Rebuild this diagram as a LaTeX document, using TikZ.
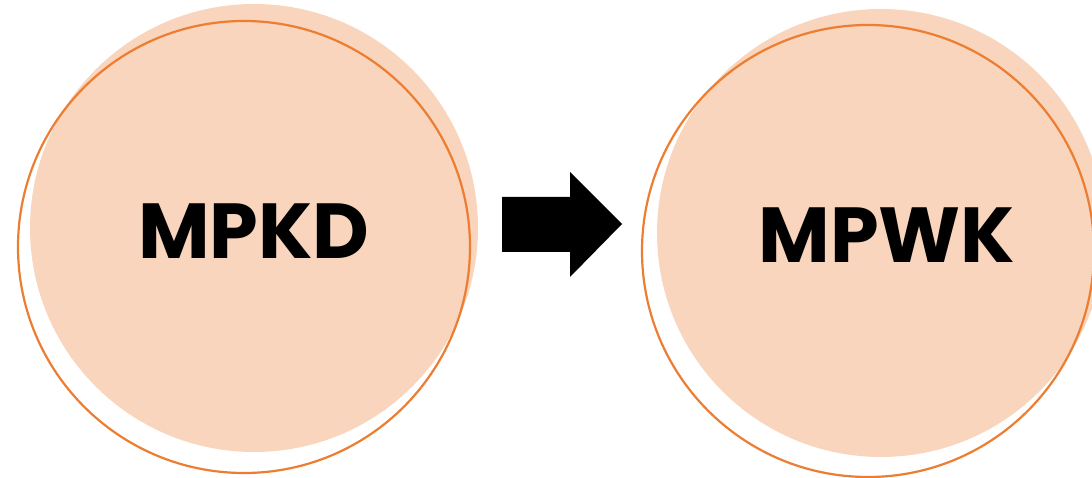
\documentclass[tikz,border=0pt]{standalone}
\usepackage{fontspec}
\setmainfont{Poppins}
\usetikzlibrary{positioning,calc}

\definecolor{peach}{HTML}{F8D5BC}
\definecolor{ringorange}{HTML}{ED7D31}

\tikzset{
  blob/.style={circle, fill=peach, inner sep=0pt, minimum size=448pt},
  ring/.style={circle, draw=ringorange, line width=2.2pt, inner sep=0pt, minimum size=452pt},
  label/.style={font=\fontsize{78}{80}\selectfont\bfseries, text=black}
}

\begin{document}
\begin{tikzpicture}[x=1pt,y=-1pt]
  \useasboundingbox (0,0) rectangle (1092,478);
  \clip (0,0) rectangle (1092,478);

  % left circle
  \node[blob] (kdfill) at (254,228) {};
  \node[ring] (kdring) at (244,247) {};
  \node[label] (kd) at (254,231) {MPKD};

  % right circle
  \node[blob] (wkfill) at (881,233) {};
  \node[ring] (wkring) at (868,251) {};
  \node[label] (wk) at (887,235) {MPWK};

  % block arrow
  \coordinate (tail) at (502,224);
  \coordinate (tip) at (622,224);
  \fill ($(tail)+(0,-27)$) -- ($(tail)+(68,-27)$) -- ($(tail)+(68,-52)$) -- (tip)
     -- ($(tail)+(68,53)$) -- ($(tail)+(68,28)$) -- ($(tail)+(0,28)$) -- cycle;
\end{tikzpicture}
\end{document}
